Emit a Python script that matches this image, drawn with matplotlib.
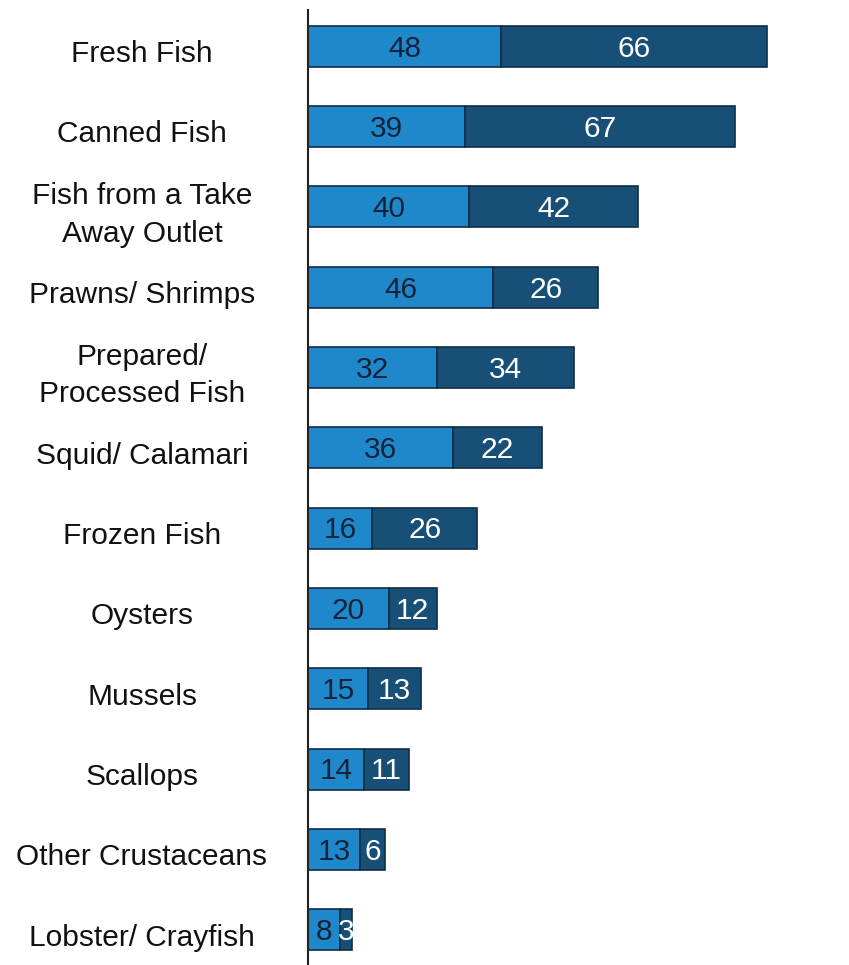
import numpy as np
import matplotlib.pyplot as plt
import matplotlib.transforms as mtransforms

categories = ['Fresh Fish', 'Canned Fish', 'Fish from a Take\nAway Outlet',
              'Prawns/ Shrimps', 'Prepared/\nProcessed Fish', 'Squid/ Calamari',
              'Frozen Fish', 'Oysters', 'Mussels', 'Scallops',
              'Other Crustaceans', 'Lobster/ Crayfish']
first = [48, 39, 40, 46, 32, 36, 16, 20, 15, 14, 13, 8]
second = [66, 67, 42, 26, 34, 22, 26, 12, 13, 11, 6, 3]

plt.rcParams['font.family'] = ['Liberation Sans', 'DejaVu Sans']

fig = plt.figure(figsize=(8.49, 9.65), dpi=100)
ax = fig.add_axes([308 / 849, 0, 532 / 849, 955 / 965])

y = np.arange(len(categories))
h = 0.51
light = '#1f88cb'
dark = '#184f77'
edge = '#0e2f48'

b1 = ax.barh(y, first, height=h, color=light, edgecolor=edge, linewidth=1.2)
b2 = ax.barh(y, second, left=first, height=h, color=dark, edgecolor=edge, linewidth=1.2)

for bars, vals, starts, col in [(b1, first, [0] * len(first), '#14233a'),
                                (b2, second, first, 'white')]:
    for bar, v, s, yi in zip(bars, vals, starts, y):
        t = ax.text(s + v / 2, yi + 0.03, str(v), ha='center', va='center',
                    fontsize=21.5, color=col)
        t.set_clip_path(bar)

# category names centred in the left margin
trans = mtransforms.blended_transform_factory(fig.transFigure, ax.transData)
for yi, lab in zip(y, categories):
    ax.text(142 / 849, yi + 0.1, lab, transform=trans, ha='center', va='center',
            fontsize=21.5, color='#111111', linespacing=1.45)

ax.set_xlim(0, 132)
ax.set_ylim(11.44, -0.45)
ax.set_xticks([])
ax.set_yticks([])
for s in ['top', 'right', 'bottom']:
    ax.spines[s].set_visible(False)
ax.spines['left'].set_linewidth(1.5)
ax.spines['left'].set_color('#222222')

fig.savefig('out.png', dpi=100)
